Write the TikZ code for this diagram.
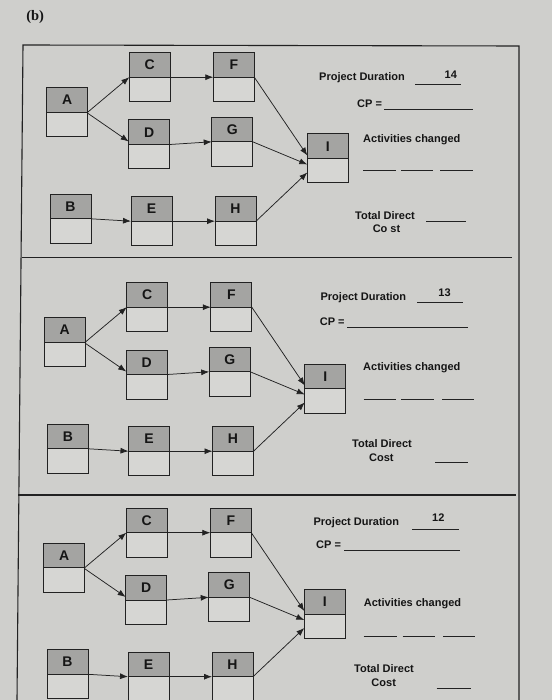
\documentclass[tikz,border=0pt]{standalone}
\usepackage{fontspec}
\setmainfont{Liberation Sans}
\newfontfamily\captionfont{Liberation Serif}
\usepackage{tikz}
\usetikzlibrary{positioning}
\usetikzlibrary{arrows.meta}
\definecolor{paper}{HTML}{CFCFCC}
\definecolor{boxtop}{HTML}{A4A4A2}
\definecolor{boxlow}{HTML}{D6D6D3}
\definecolor{ink}{HTML}{222222}
\definecolor{textink}{HTML}{151515}
\newcommand{\actwidth}{41pt}
\newcommand{\acthalf}{24.5pt}
\tikzstyle{act}=[draw=ink, line width=1pt, fill=boxtop, anchor=north west, inner sep=0, outer sep=0,
                 minimum width=\actwidth, minimum height=\acthalf, font=\fontsize{14}{14}\bfseries, text=textink]
\tikzstyle{actlow}=[act, fill=boxlow, anchor=north]
\tikzstyle{arr}=[draw=ink, line width=0.75pt, -{Latex[length=8pt,width=6pt]}]
\tikzstyle{formtext}=[anchor=west, inner sep=0, font=\fontsize{11}{11}\bfseries, text=textink]
\tikzstyle{blank}=[draw=ink, line width=0.9pt]
\tikzstyle{frame}=[draw=ink, line width=1.1pt]

\begin{document}
\begin{tikzpicture}[x=1pt, y=-1pt]
    \useasboundingbox[fill=paper] (0,0) rectangle (552,700);
    \node[anchor=center, inner sep=0, font=\captionfont\fontsize{14.5}{14.5}\bfseries, text=textink] (title) at (35.2,17) {(b)};
    % outer frame and panel separators
    \draw[frame] (17,700) -- (23,45) -- (519,46) -- (519,700);
    \draw[frame] (22,257.5) -- (512,257.5);
    \draw[frame] (18,495) -- (516,495);
    % the same network in each panel
    \foreach \p/\dx/\dy in {1/0/0, 2/-2.5/230, 3/-3/455.5} {
        \begin{scope}[shift={(\dx,\dy)}]
            \foreach \n/\x/\y in {A/46.7/87.7, C/129.3/52.7, F/213.3/52.7, D/128.7/120, G/211.7/117.3,
                                  B/50/194.3, E/131/196.7, H/215/196.7, I/307.3/134} {
                \node[act] (\n\p) at (\x,\y) {\n};
                \node[actlow, below=0pt of \n\p] (\n\p-lo) {};
            }
            \draw[arr] (A\p.south east) -- (C\p.south west);
            \draw[arr] ([yshift=-1pt]A\p.south east) -- ([yshift=3pt]D\p.south west);
            \draw[arr] (C\p.south east) -- (F\p.south west);
            \draw[arr] (D\p.south east) -- (G\p.south west);
            \draw[arr] (B\p.south east) -- (E\p.south west);
            \draw[arr] (E\p.south east) -- (H\p.south west);
            \draw[arr] (F\p.south east) -- ([yshift=3pt]I\p.south west);
            \draw[arr] (G\p.south east) -- ([yshift=-6pt]I\p.south west);
            \draw[arr] (H\p.south east) -- ([yshift=-14pt]I\p.south west);
        \end{scope}
    }
    % panel 1
    \node[formtext] (dur1) at (319,77.7) {Project Duration};
    \draw[blank] (415,84.3) -- (460.7,84.3);
    \node[formtext, anchor=center] (val1) at (450.8,75) {14};
    \node[formtext] (cp1) at (357,103.3) {CP =};
    \draw[blank] (384,109.3) -- (473,109.3);
    \node[formtext] (chg1) at (363,139.3) {Activities changed};
    \draw[blank] (363,170) -- (396,170) (401,170) -- (433,170) (440,170) -- (473,170);
    \node[formtext] (tdc1) at (355,215.7) {Total Direct};
    \node[formtext, anchor=center] (cost1) at (386.5,229) {Co st};
    \draw[blank] (426,221.7) -- (466,221.7);
    % panel 2
    \node[formtext] (dur2) at (320.4,297.3) {Project Duration};
    \draw[blank] (417,302.7) -- (463,302.7);
    \node[formtext, anchor=center] (val2) at (444.5,292.7) {13};
    \node[formtext] (cp2) at (319.7,321.7) {CP =};
    \draw[blank] (347,327.7) -- (467.6,327.7);
    \node[formtext] (chg2) at (363,367.3) {Activities changed};
    \draw[blank] (363.7,399) -- (396,399) (401,399) -- (434,399) (442,399) -- (473.6,399);
    \node[formtext] (tdc2) at (352,444) {Total Direct};
    \node[formtext, anchor=center] (cost2) at (381.4,457.3) {Cost};
    \draw[blank] (435,462.3) -- (468,462.3);
    % panel 3
    \node[formtext] (dur3) at (313.4,522.7) {Project Duration};
    \draw[blank] (412,529.3) -- (458.5,529.3);
    \node[formtext, anchor=center] (val3) at (438.3,517.7) {12};
    \node[formtext] (cp3) at (316,545) {CP =};
    \draw[blank] (344,550.7) -- (459.5,550.7);
    \node[formtext] (chg3) at (363.7,603.3) {Activities changed};
    \draw[blank] (363.7,636) -- (397,636) (402.5,636) -- (435,636) (443,636) -- (474.6,636);
    \node[formtext] (tdc3) at (354,669) {Total Direct};
    \node[formtext, anchor=center] (cost3) at (383.7,682.3) {Cost};
    \draw[blank] (436.6,688.3) -- (471,688.3);
\end{tikzpicture}
\end{document}
